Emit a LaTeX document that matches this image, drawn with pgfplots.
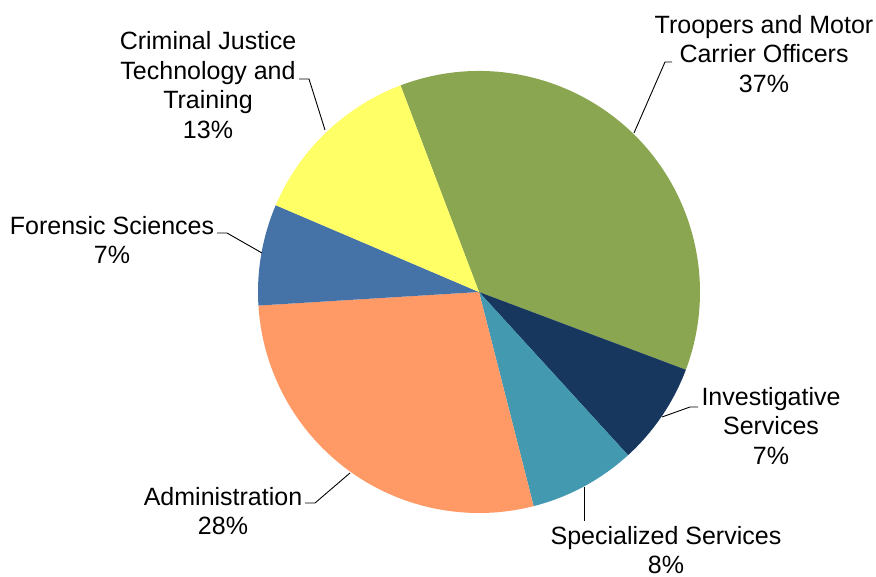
\documentclass[border=0pt]{standalone}
\usepackage{fontspec}
\setmainfont{Liberation Sans}
\usepackage{pgfplots}
\usepackage{pgfplotstable}
\pgfplotsset{compat=1.18}

\definecolor{cGreen}{RGB}{139,166,80}
\definecolor{cNavy}{RGB}{23,55,94}
\definecolor{cTeal}{RGB}{66,153,176}
\definecolor{cOrange}{RGB}{255,153,102}
\definecolor{cBlue}{RGB}{69,115,167}
\definecolor{cYellow}{RGB}{255,255,102}

% share of each slice (percent), clockwise from the top
\pgfplotstableread{
value color
36.5 cGreen
7.5  cNavy
7.8  cTeal
28.0 cOrange
7.4  cBlue
12.8 cYellow
}\piedata

\begin{document}
\begin{tikzpicture}
\begin{axis}[
    scale only axis,
    width=876pt, height=576pt,
    xmin=0, xmax=876, ymin=0, ymax=576,
    hide axis,
    clip=false,
]
\pgfplotstablegetrowsof{\piedata}
\pgfmathtruncatemacro\lastrow{\pgfplotsretval-1}
\def\startangle{110.8}
\pgfplotsforeachungrouped \i in {0,...,\lastrow}{
    \pgfplotstablegetelem{\i}{value}\of\piedata \let\val\pgfplotsretval
    \pgfplotstablegetelem{\i}{color}\of\piedata \let\col\pgfplotsretval
    \pgfmathsetmacro\endangle{\startangle-3.6*\val}
    \edef\temp{\noexpand\fill[\col] (axis cs:479,284) -- ++(\startangle:221pt)
        arc[start angle=\startangle, end angle=\endangle, radius=221pt] -- cycle;}
    \temp
    \global\let\startangle\endangle
}

% leader lines
\draw[black, line width=0.9pt] (axis cs:634,443) -- (axis cs:665,514) -- (axis cs:672,514);
\draw[black, line width=0.9pt] (axis cs:325,446) -- (axis cs:309,497) -- (axis cs:299,497);
\draw[black, line width=0.9pt] (axis cs:262,323) -- (axis cs:227,343) -- (axis cs:217,343);
\draw[black, line width=0.9pt] (axis cs:662,159) -- (axis cs:690,169) -- (axis cs:698,169);
\draw[black, line width=0.9pt] (axis cs:350,103) -- (axis cs:315,73) -- (axis cs:305,73);
\draw[black, line width=0.9pt] (axis cs:584,89) -- (axis cs:584,55);

% labels
\begin{scope}[every node/.style={align=center, font=\fontsize{25}{29.8}\selectfont, inner sep=0pt}]
\node at (axis cs:764,522) {Troopers and Motor\\Carrier Officers\\37\%};
\node at (axis cs:208,491) {Criminal Justice\\Technology and\\Training\\13\%};
\node at (axis cs:112,336) {Forensic Sciences\\7\%};
\node at (axis cs:771,150) {Investigative\\Services\\7\%};
\node at (axis cs:223,65) {Administration\\28\%};
\node at (axis cs:666,26) {Specialized Services\\8\%};
\end{scope}
\end{axis}
\pgfresetboundingbox
\path[use as bounding box] (0,0) rectangle (876pt,576pt);
\end{tikzpicture}
\end{document}
